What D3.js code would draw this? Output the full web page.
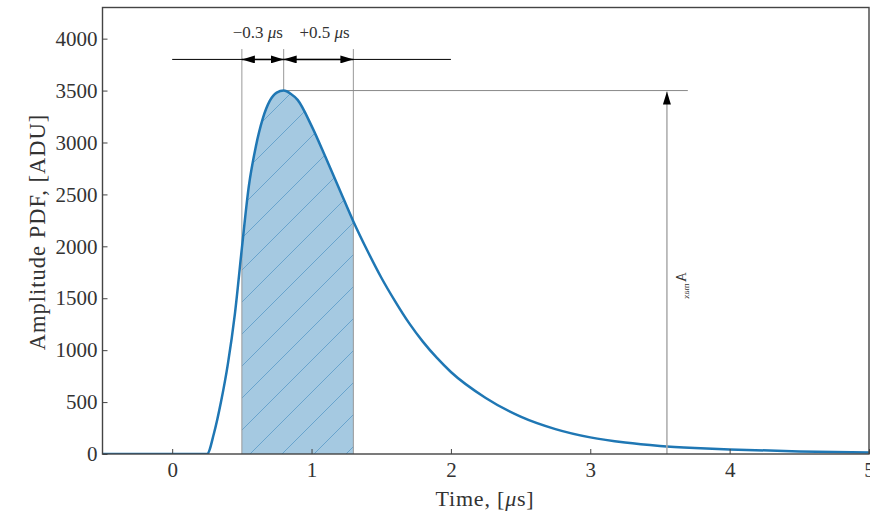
<!DOCTYPE html>
<html>
<head>
<meta charset="utf-8">
<script src="https://cdn.jsdelivr.net/npm/d3@7"></script>
<style>
  body { margin: 0; background: #fff; }
  text { font-family: "Liberation Serif", "DejaVu Serif", serif; fill: #333; }
</style>
</head>
<body>
<div id="chart"></div>
<script>
const width = 870
const height = 517
const margin = { top: 7.5, bottom: 63, left: 102.5, right: 1 }

// pulse: time [us] and amplitude [ADU]
const timeUs = [-0.5, 0, 0.25, 0.30, 0.35, 0.40, 0.45, 0.50, 0.55, 0.60, 0.65, 0.70, 0.75, 0.80, 0.85, 0.90, 1.0, 1.1, 1.2, 1.3, 1.4, 1.5, 1.6, 1.7, 1.8, 1.9, 2.0, 2.25, 2.5, 2.75, 3.0, 3.25, 3.5, 3.75, 4.0, 4.5, 5.0]
const amplitude = [0, 0, 0, 200, 500, 870, 1350, 1980, 2580, 2960, 3230, 3400, 3480, 3500, 3470, 3410, 3160, 2860, 2550, 2240, 1960, 1700, 1470, 1260, 1080, 925, 790, 540, 360, 240, 160, 110, 78, 58, 44, 25, 14]

const xTicks = [0, 1, 2, 3, 4, 5]
const yTicks = [0, 500, 1000, 1500, 2000, 2500, 3000, 3500, 4000]

// window around the peak
const windowTimes = [0.5, 0.8, 1.3]
const windowLabels = ["\u22120.3 ", "+0.5 "]
const peakTime = 0.8
const peakAmp = 3500
const rulerRange = [0, 2]
const rulerLevel = 3800
const guideTop = 3900
const amaxTime = 3.55
const peakLineEnd = 3.7

const data = timeUs.map((t, i) => ({ t: t, a: amplitude[i] }))

const svg = d3.select("#chart").append("svg")
    .attr("width", width)
    .attr("height", height)
    .style("display", "block")

svg.append("rect").attr("width", width).attr("height", height).attr("fill", "#fff")

const x = d3.scaleLinear().domain([-0.5, 5]).range([margin.left, width - margin.right])
const y = d3.scaleLinear().domain([0, 4300]).range([height - margin.bottom, margin.top])

const defs = svg.append("defs")
defs.append("clipPath").attr("id", "plotClip")
    .append("rect")
    .attr("x", margin.left).attr("y", margin.top)
    .attr("width", width - margin.right - margin.left)
    .attr("height", height - margin.bottom - margin.top)

const hatch = defs.append("pattern")
    .attr("id", "hatch")
    .attr("patternUnits", "userSpaceOnUse")
    .attr("width", 32).attr("height", 32)
hatch.append("rect").attr("width", 32).attr("height", 32).attr("fill", "#a5c9e1")
hatch.append("path")
    .attr("d", "M0,32 L32,0 M-8,8 L8,-8 M24,40 L40,24")
    .attr("stroke", "#1f77b4").attr("stroke-opacity", 0.45).attr("stroke-width", 1)

const arrowHead = function (id, color) {
    defs.append("marker")
        .attr("id", id)
        .attr("viewBox", "0 0 13 8")
        .attr("refX", 13).attr("refY", 4)
        .attr("markerWidth", 13).attr("markerHeight", 8)
        .attr("markerUnits", "userSpaceOnUse")
        .attr("orient", "auto-start-reverse")
        .append("path").attr("d", "M0,0 L13,4 L0,8 Z").attr("fill", color)
}
arrowHead("arrowBlack", "#000")

const plot = svg.append("g").attr("clip-path", "url(#plotClip)")

// shaded window under the curve
const windowData = data.filter(d => d.t >= windowTimes[0] && d.t <= windowTimes[2])
plot.append("path")
    .datum(windowData)
    .attr("fill", "url(#hatch)")
    .attr("d", d3.area().x(d => x(d.t)).y0(y(0)).y1(d => y(d.a)).curve(d3.curveMonotoneX))

// grey guide lines
plot.selectAll(".guide")
    .data(windowTimes)
    .join("line")
    .attr("class", "guide")
    .attr("x1", d => x(d)).attr("x2", d => x(d))
    .attr("y1", y(guideTop))
    .attr("y2", d => d === peakTime ? y(peakAmp) : y(0))
    .attr("stroke", "#999").attr("stroke-width", 1)

plot.append("line")
    .attr("x1", x(peakTime)).attr("x2", x(peakLineEnd))
    .attr("y1", y(peakAmp)).attr("y2", y(peakAmp))
    .attr("stroke", "#888").attr("stroke-width", 1)

// the pulse
plot.append("path")
    .datum(data)
    .attr("fill", "none")
    .attr("stroke", "#1f77b4")
    .attr("stroke-width", 2.5)
    .attr("d", d3.line().x(d => x(d.t)).y(d => y(d.a)).curve(d3.curveMonotoneX))

// ruler with the two windows
plot.append("line")
    .attr("x1", x(rulerRange[0])).attr("x2", x(rulerRange[1]))
    .attr("y1", y(rulerLevel)).attr("y2", y(rulerLevel))
    .attr("stroke", "#000").attr("stroke-width", 1)

const spans = [[windowTimes[0], windowTimes[1]], [windowTimes[1], windowTimes[2]]]
plot.selectAll(".span")
    .data(spans)
    .join("line")
    .attr("class", "span")
    .attr("x1", d => x(d[0])).attr("x2", d => x(d[1]))
    .attr("y1", y(rulerLevel)).attr("y2", y(rulerLevel))
    .attr("stroke", "#000").attr("stroke-width", 1.5)
    .attr("marker-start", "url(#arrowBlack)")
    .attr("marker-end", "url(#arrowBlack)")

const spanText = svg.selectAll(".spanLabel")
    .data(spans)
    .join("text")
    .attr("class", "spanLabel")
    .attr("x", (d, i) => (x(d[0]) + x(d[1])) / 2 + (i === 0 ? -5 : 6))
    .attr("y", 38)
    .attr("text-anchor", "middle")
    .attr("font-size", 17)
spanText.append("tspan").text((d, i) => windowLabels[i])
spanText.append("tspan").attr("font-style", "italic").text("\u03bc")
spanText.append("tspan").text("s")

// A_max arrow
plot.append("line")
    .attr("x1", x(amaxTime)).attr("x2", x(amaxTime))
    .attr("y1", y(0)).attr("y2", y(peakAmp) + 1)
    .attr("stroke", "#aaa").attr("stroke-width", 1.5)
    .attr("marker-end", "url(#arrowBlack)")

const amax = svg.append("text")
    .attr("transform", `translate(${x(amaxTime) + 19}, ${y(1750)}) matrix(0,1,1,0,0,0)`)
    .attr("font-size", 14)
    .attr("fill", "#222")
amax.append("tspan").text("A")
amax.append("tspan").attr("font-size", 9).attr("dy", 3).attr("dx", 1).text("max")

// axes
const xAxis = d3.axisBottom(x).tickValues(xTicks).tickSize(-5).tickSizeOuter(0).tickPadding(8).tickFormat(d3.format("d"))
const yAxis = d3.axisLeft(y).tickValues(yTicks).tickSize(-5).tickSizeOuter(0).tickPadding(5).tickFormat(d3.format("d"))

const xAxisGroup = svg.append("g")
    .attr("transform", `translate(0, ${y(0)})`)
    .call(xAxis)
const yAxisGroup = svg.append("g")
    .attr("transform", `translate(${margin.left}, 0)`)
    .call(yAxis)

for (const g of [xAxisGroup, yAxisGroup]) {
    g.select(".domain").remove()
    g.selectAll(".tick line").attr("stroke", "#444").attr("stroke-width", 1)
    g.selectAll(".tick text")
        .attr("font-family", "Liberation Serif, DejaVu Serif, serif")
        .attr("font-size", 21)
        .attr("fill", "#333")
}

// frame
svg.append("rect")
    .attr("x", margin.left).attr("y", margin.top)
    .attr("width", width - margin.right - margin.left)
    .attr("height", y(0) - margin.top)
    .attr("fill", "none")
    .attr("stroke", "#444").attr("stroke-width", 1.4)

// axis labels
const xLabel = svg.append("text")
    .attr("x", 485).attr("y", 506)
    .attr("text-anchor", "middle")
    .attr("font-size", 22)
    .attr("letter-spacing", 0.8)
xLabel.append("tspan").text("Time,  [")
xLabel.append("tspan").attr("font-style", "italic").text("\u03bc")
xLabel.append("tspan").text("s]")

svg.append("text")
    .attr("transform", `translate(45, 232) rotate(-90)`)
    .attr("text-anchor", "middle")
    .attr("font-size", 22.5)
    .attr("letter-spacing", 1)
    .text("Amplitude PDF,  [ADU]")
</script>
</body>
</html>
